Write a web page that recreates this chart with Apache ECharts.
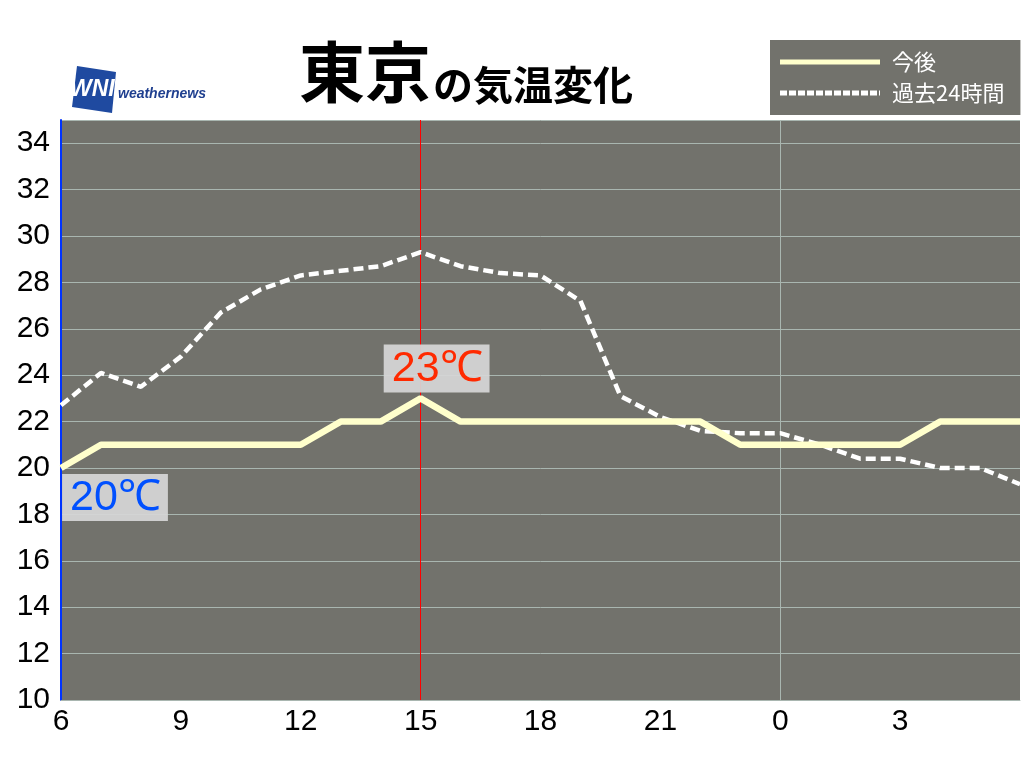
<!DOCTYPE html>
<html><head><meta charset="utf-8">
<script src="https://cdn.jsdelivr.net/npm/echarts@6/dist/echarts.min.js"></script>
<style>html,body{margin:0;padding:0;background:#fff}#c{width:1024px;height:768px}</style>
</head><body><div id="c"></div>
<script>
var hours = [6,7,8,9,10,11,12,13,14,15,16,17,18,19,20,21,22,23,0,1,2,3,4,5,6];
var future = [20,21,21,21,21,21,21,22,22,23,22,22,22,22,22,22,22,21,21,21,21,21,22,22,22];
var past24 = [22.7,24.1,23.5,24.8,26.7,27.7,28.3,28.5,28.7,29.3,28.7,28.4,28.3,27.2,23.1,22.2,21.6,21.5,21.5,21.0,20.4,20.4,20.0,20.0,19.3];
var yTicks = [10,12,14,16,18,20,22,24,26,28,30,32,34];
var nowIndex = 9;    // 15時
var dayIndex = 18;   // 0時

// legend icons
var solidIcon = 'path://M0,0H100V5H0Z';
var dashParts = [];
for (var d = 0; d < 100; d += 9) { dashParts.push('M' + d + ',0H' + Math.min(d + 7, 100) + 'V5H' + d + 'Z'); }
var dashIcon = 'path://' + dashParts.join(' ');

var chart = echarts.init(document.getElementById('c'));
var numFont = 'Liberation Sans, Arial, sans-serif';
var jpFont = '"Noto Sans CJK JP", sans-serif';
chart.setOption({
  backgroundColor: '#ffffff',
  animation: false,
  title: {
    left: 294, top: 28,
    text: '{a|東京}{b|の気温変化}',
    textStyle: {
      rich: {
        a: {fontFamily: jpFont, fontSize: 66, fontWeight: 'bold', color: '#000', verticalAlign: 'bottom', lineHeight: 72},
        b: {fontFamily: jpFont, fontSize: 40, fontWeight: 'bold', color: '#000', verticalAlign: 'bottom', lineHeight: 62, padding: [0,0,0,2]}
      }
    }
  },
  legend: {
    left: 770, top: 40, orient: 'vertical',
    backgroundColor: '#72726c', padding: [10, 16, 10, 10],
    itemWidth: 100, itemHeight: 5, itemGap: 7,
    textStyle: {color: '#fff', fontSize: 22, fontFamily: jpFont, lineHeight: 24, padding: [0,0,0,7]},
    data: [
      {name: '今後', icon: solidIcon, itemStyle: {color: '#ffffcc'}},
      {name: '過去24時間', icon: dashIcon, itemStyle: {color: '#ffffff'}}
    ]
  },
  graphic: [
    {type: 'polygon', shape: {points: [[77,66],[116,72],[112,113],[72,107]]}, style: {fill: '#1f4aa0'}},
    {type: 'text', left: 70, top: 78, style: {text: 'WNI', font: 'italic bold 23px Liberation Sans', fill: '#fff'}},
    {type: 'text', left: 118, top: 87, style: {text: 'weathernews', font: 'italic bold 14px Liberation Sans', fill: '#1f3f8f'}}
  ],
  grid: {left: 61, right: 4, top: 120, bottom: 68, show: true, backgroundColor: '#72726c', borderWidth: 0},
  xAxis: {
    type: 'category', data: hours, boundaryGap: false,
    axisLine: {lineStyle: {color: '#a9b6b0', width: 1}},
    axisTick: {show: false},
    axisLabel: {
      interval: function (i) { return i % 3 === 0 && i < hours.length - 1; },
      color: '#000', fontSize: 30, fontFamily: numFont, margin: 7
    },
    splitLine: {show: false}
  },
  yAxis: {
    type: 'value', min: 10, max: 35, interval: 2,
    axisLine: {show: true, lineStyle: {color: '#0033ff', width: 2}},
    axisTick: {show: false},
    axisLabel: {
      color: '#000', fontSize: 30, fontFamily: numFont, margin: 11,
      formatter: function (v) { return yTicks.indexOf(v) >= 0 ? String(v) : ''; }
    },
    splitLine: {lineStyle: {color: '#a9b6b0', width: 1}}
  },
  series: [
    {
      name: '過去24時間', type: 'line', data: past24, symbol: 'none', z: 3,
      lineStyle: {color: '#ffffff', width: 4.5, type: [10, 5]},
      itemStyle: {color: '#ffffff'}
    },
    {
      name: '今後', type: 'line', data: future, symbol: 'none', z: 4,
      lineStyle: {color: '#ffffcc', width: 6.5},
      itemStyle: {color: '#ffffcc'},
      markLine: {
        silent: true, symbol: 'none', label: {show: false},
        data: [
          {xAxis: nowIndex, lineStyle: {color: '#ff0000', width: 1, type: 'solid'}},
          {xAxis: dayIndex, lineStyle: {color: '#a9b6b0', width: 1, type: 'solid'}}
        ],
        z: 2
      },
      markPoint: {
        symbol: 'circle', symbolSize: 0,
        data: [
          {coord: [nowIndex, future[nowIndex]], value: future[nowIndex],
           label: {show: true, position: 'top', distance: 6, offset: [16, 0], formatter: '{c}℃',
                   color: '#ff2a00', fontSize: 43, fontFamily: numFont, lineHeight: 44,
                   backgroundColor: 'rgba(214,214,214,0.93)', padding: [3, 7, 1, 8]}},
          {coord: [0, future[0]], value: future[0],
           label: {show: true, position: 'bottom', distance: 6, offset: [54, 0], formatter: '{c}℃',
                   color: '#0050ff', fontSize: 43, fontFamily: numFont, lineHeight: 44,
                   backgroundColor: 'rgba(214,214,214,0.93)', padding: [2, 7, 1, 8]}}
        ]
      }
    }
  ]
});
</script></body></html>
